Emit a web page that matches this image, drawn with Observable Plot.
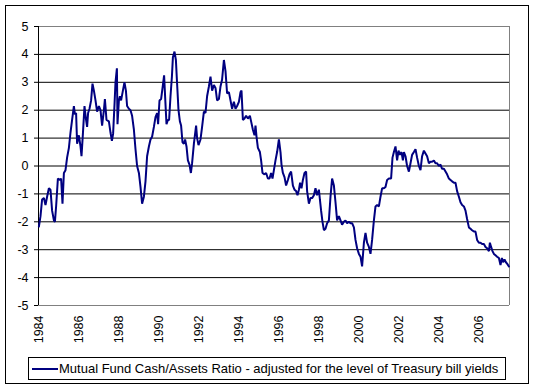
<!DOCTYPE html>
<html><head><meta charset="utf-8">
<script src="https://cdn.jsdelivr.net/npm/d3@7"></script>
<script src="https://cdn.jsdelivr.net/npm/@observablehq/plot@0.6"></script>
<style>
body{margin:0;background:#fff;font-family:"Liberation Sans",Arial,sans-serif;}
#wrap{position:relative;width:536px;height:389px;overflow:hidden;}
#frame{position:absolute;left:5px;top:5px;width:524px;height:379px;box-sizing:border-box;border:1px solid #000;pointer-events:none;}
#chart{position:absolute;left:0;top:0;}
#legend{position:absolute;left:28px;top:357px;width:478px;height:23px;box-sizing:border-box;border:1px solid #000;background:#fff;font-size:13px;color:#000;display:flex;align-items:center;white-space:nowrap;}
#legend .sw{display:inline-block;width:26px;height:2px;background:#000080;margin-left:3px;margin-right:1px;}
</style></head>
<body>
<div id="wrap"><div id="chart"></div><div id="frame"></div><div id="legend"><span class="sw"></span><span id="legtext"></span></div></div>
<script>
const seriesName = "Mutual Fund Cash/Assets Ratio - adjusted for the level of Treasury bill yields";
const xTicks = [1984,1986,1988,1990,1992,1994,1996,1998,2000,2002,2004,2006];
const yTicks = [-5,-4,-3,-2,-1,0,1,2,3,4,5];
const xEnd = 2007.55;

const years = [
1984.02,1984.10,1984.18,1984.27,1984.35,1984.43,1984.52,1984.60,1984.68,1984.77,1984.82,1984.88,1984.97,
1985.07,1985.13,1985.20,1985.27,1985.35,1985.43,1985.52,1985.60,1985.68,1985.77,1985.82,1985.88,1985.93,
1986.02,1986.10,1986.15,1986.22,1986.30,1986.37,1986.43,1986.48,1986.55,1986.63,1986.70,1986.77,1986.85,1986.93,
1987.02,1987.10,1987.18,1987.27,1987.32,1987.40,1987.52,1987.60,1987.67,1987.73,1987.80,1987.85,1987.92,1987.95,
1988.02,1988.07,1988.13,1988.22,1988.30,1988.37,1988.43,1988.52,1988.60,1988.68,1988.77,1988.85,1988.93,
1989.02,1989.10,1989.18,1989.27,1989.35,1989.43,1989.52,1989.60,1989.68,1989.77,1989.85,1989.93,1989.98,
1990.05,1990.13,1990.22,1990.28,1990.33,1990.40,1990.47,1990.53,1990.60,1990.67,1990.72,1990.80,1990.87,1990.93,
1991.00,1991.07,1991.13,1991.20,1991.27,1991.33,1991.40,1991.47,1991.55,1991.62,1991.68,1991.77,1991.83,1991.88,1991.93,
1992.00,1992.10,1992.18,1992.27,1992.35,1992.43,1992.52,1992.60,1992.68,1992.77,1992.85,1992.93,1993.02,
1993.10,1993.18,1993.27,1993.35,1993.43,1993.52,1993.60,1993.68,1993.77,1993.85,1993.93,
1994.02,1994.10,1994.15,1994.22,1994.30,1994.38,1994.47,1994.57,1994.63,1994.72,1994.80,1994.85,1994.90,1994.97,
1995.07,1995.13,1995.20,1995.30,1995.38,1995.47,1995.55,1995.63,1995.70,1995.77,1995.85,1995.93,
1996.02,1996.10,1996.15,1996.22,1996.30,1996.38,1996.47,1996.55,1996.63,1996.72,1996.80,1996.88,1996.95,
1997.02,1997.08,1997.15,1997.22,1997.30,1997.38,1997.43,1997.52,1997.60,1997.68,1997.77,1997.85,1997.93,
1998.02,1998.07,1998.13,1998.20,1998.27,1998.35,1998.43,1998.52,1998.60,1998.68,1998.77,1998.85,1998.93,
1999.02,1999.10,1999.18,1999.27,1999.35,1999.43,1999.52,1999.60,1999.68,1999.77,1999.85,1999.93,
2000.02,2000.10,2000.18,2000.27,2000.35,2000.43,2000.52,2000.60,2000.68,2000.77,2000.85,2000.93,
2001.02,2001.10,2001.18,2001.27,2001.35,2001.43,2001.52,2001.63,2001.70,2001.77,2001.85,2001.93,
2002.00,2002.07,2002.15,2002.22,2002.27,2002.35,2002.43,2002.52,2002.60,2002.68,2002.77,2002.85,2002.93,
2003.02,2003.10,2003.18,2003.27,2003.35,2003.43,2003.52,2003.60,2003.68,2003.77,2003.85,2003.93,
2004.02,2004.10,2004.18,2004.27,2004.35,2004.43,2004.52,2004.60,2004.68,2004.77,2004.85,2004.93,
2005.02,2005.10,2005.18,2005.27,2005.35,2005.43,2005.52,2005.60,2005.68,2005.77,2005.85,2005.93,
2006.02,2006.10,2006.18,2006.27,2006.35,2006.43,2006.52,2006.57,2006.63,2006.70,2006.77,2006.85,2006.93,
2007.02,2007.10,2007.17,2007.23,2007.30,2007.37,2007.43,2007.52
];
const ratio = [
-2.17,-1.8,-1.2,-1.15,-1.4,-1.1,-0.8,-0.85,-1.6,-1.95,-2.0,-1.45,-0.45,
-0.5,-0.45,-1.35,-0.25,-0.15,0.3,0.65,1.2,1.65,2.15,1.85,1.9,0.8,
1.1,0.7,0.35,1.15,2.15,1.7,1.4,1.9,2.05,2.35,2.95,2.7,2.35,1.95,
2.15,2.0,1.45,2.0,2.4,1.65,1.6,1.2,0.9,1.15,2.2,3.0,3.5,1.5,
2.35,2.5,2.35,2.7,3.0,2.7,2.15,2.05,2.0,1.8,1.3,0.6,0.0,
-0.25,-0.75,-1.35,-1.1,-0.55,0.35,0.7,0.95,1.05,1.4,1.75,1.9,1.5,
2.35,2.4,2.9,3.25,2.5,1.5,1.65,1.65,2.5,3.2,3.9,4.1,3.8,2.95,
2.0,1.6,1.45,0.85,0.8,0.95,0.7,0.2,0.05,-0.25,0.1,0.8,1.15,1.45,1.0,
0.75,0.95,1.4,1.95,1.9,2.5,2.85,3.2,2.7,2.9,2.8,2.35,2.4,
2.85,3.1,3.8,3.4,2.6,2.65,2.35,2.05,2.3,2.05,2.15,
2.3,2.65,2.7,1.65,1.7,1.8,1.7,1.8,1.6,1.3,1.1,1.45,1.05,0.65,
0.5,0.2,-0.25,-0.3,-0.25,-0.45,-0.45,-0.25,-0.45,-0.15,0.2,0.5,
0.95,0.5,0.05,-0.25,-0.4,-0.7,-0.5,-0.3,-0.2,-0.7,-0.85,-0.9,-1.05,
-0.85,-0.6,-0.8,-0.5,-0.25,-0.2,-0.9,-1.35,-1.15,-1.15,-1.05,-0.8,-1.05,
-0.85,-1.2,-1.6,-2.0,-2.3,-2.25,-2.05,-1.95,-1.1,-0.45,-0.7,-1.3,-1.95,
-1.8,-1.95,-2.1,-2.0,-1.95,-2.05,-2.0,-2.05,-2.05,-2.2,-2.65,-2.95,
-3.15,-3.25,-3.6,-2.75,-2.4,-2.75,-2.9,-3.15,-2.65,-1.95,-1.45,-1.4,
-1.45,-1.1,-0.8,-0.8,-0.75,-0.5,-0.45,-0.45,0.3,0.5,0.7,0.2,
0.55,0.4,0.5,0.2,0.5,0.35,0.0,-0.2,0.1,0.4,0.5,0.6,0.3,
0.0,-0.15,0.35,0.55,0.45,0.35,0.1,0.15,0.15,0.2,0.1,0.1,
0.0,0.05,-0.1,-0.1,-0.2,-0.3,-0.45,-0.5,-0.55,-0.6,-0.6,-0.9,
-1.1,-1.3,-1.4,-1.45,-1.6,-1.9,-2.2,-2.25,-2.3,-2.35,-2.35,-2.65,
-2.75,-2.75,-2.8,-2.8,-2.9,-2.95,-3.05,-2.75,-2.9,-3.05,-3.15,-3.2,-3.25,
-3.3,-3.55,-3.3,-3.45,-3.35,-3.45,-3.5,-3.6
];

const data = years.map((y, i) => ({year: y, value: ratio[i]}));
const innerGrid = yTicks.slice(1, -1);
const edgeGrid = [yTicks[0], yTicks[yTicks.length - 1]];

const chart = Plot.plot({
  width: 536,
  height: 350,
  marginLeft: 38,
  marginRight: 27,
  marginTop: 26,
  marginBottom: 45,
  style: {fontFamily: "'Liberation Sans', Arial, sans-serif", fontSize: "12.5px", color: "#000", background: "none"},
  x: {domain: [xTicks[0], xEnd]},
  y: {domain: [yTicks[0], yTicks[yTicks.length - 1]]},
  marks: [
    Plot.ruleY(innerGrid, {stroke: "#000", strokeWidth: 1, strokeOpacity: 1}),
    Plot.ruleY(edgeGrid, {stroke: "#808080", strokeWidth: 1, strokeOpacity: 1}),
    Plot.ruleX([xEnd], {stroke: "#808080", strokeWidth: 1, strokeOpacity: 1}),
    Plot.ruleX([xTicks[0]], {stroke: "#000", strokeWidth: 1, strokeOpacity: 1}),
    Plot.axisY({ticks: yTicks, tickSize: 4, tickPadding: 6, tickFormat: d => String(d), label: null, strokeOpacity: 1}),
    Plot.axisX({ticks: xTicks, tickRotate: -90, tickSize: 0, tickPadding: 10, tickFormat: d => String(d), label: null}),
    Plot.line(data, {x: "year", y: "value", stroke: "#000080", strokeWidth: 2, strokeLinejoin: "miter"})
  ]
});
document.getElementById("chart").appendChild(chart);
document.getElementById("legtext").textContent = seriesName;
</script>
</body></html>
